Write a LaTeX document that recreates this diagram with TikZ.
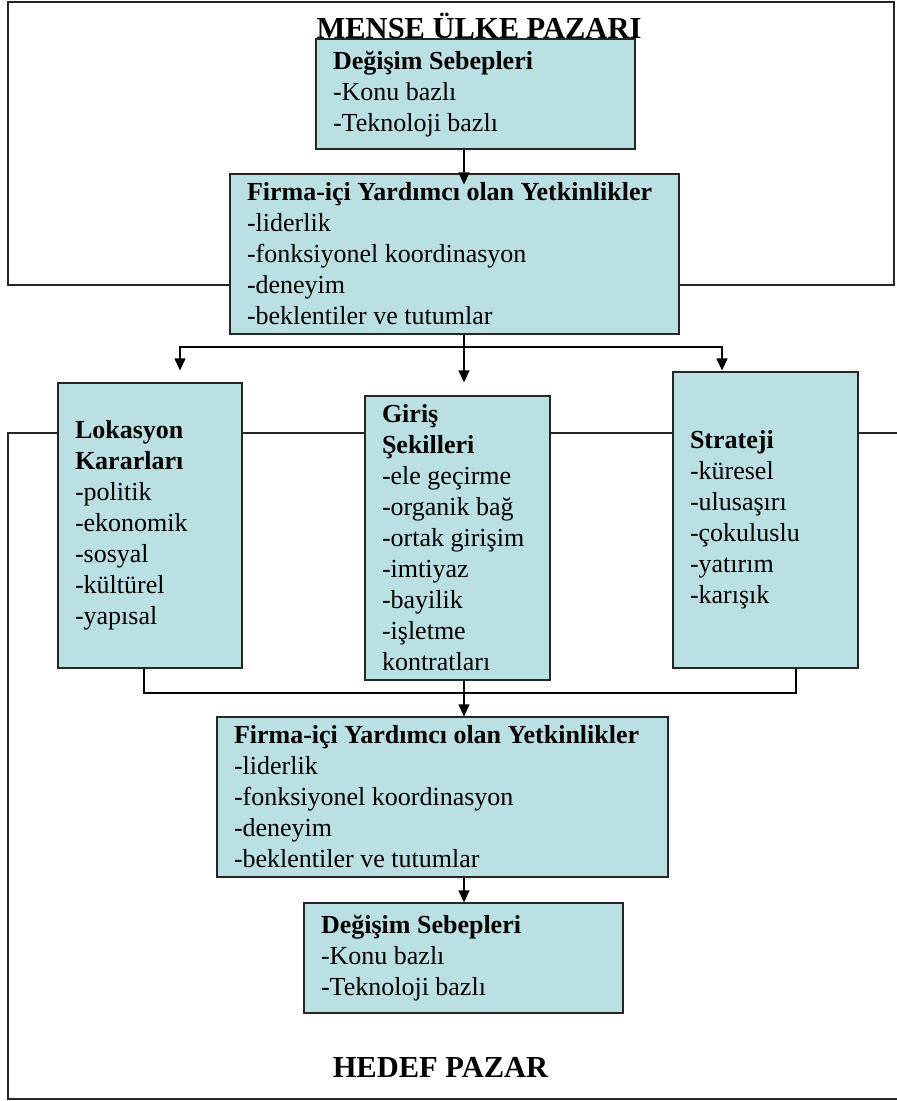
\documentclass[tikz,border=0pt]{standalone}
\usepackage{fontspec}
\setmainfont{Liberation Serif}
\usetikzlibrary{arrows.meta}
\definecolor{boxfill}{RGB}{187,224,227}
\begin{document}
\hyphenpenalty=10000
\exhyphenpenalty=10000
\begin{tikzpicture}[x=1pt,y=-1pt,
  frame/.style={line width=1.3pt, draw=black!85},
  infobox/.style={draw=black!85, line width=1.3pt, fill=boxfill, inner xsep=17pt,
    inner ysep=0pt, align=flush left, anchor=center,
    font=\fontsize{26}{31}\selectfont},
  link/.style={line width=1.3pt},
  arr/.style={link, -{Triangle[width=11pt,length=12pt]}},
  title/.style={font=\fontsize{30.5}{36}\selectfont\bfseries, inner sep=0pt, anchor=base}]
\useasboundingbox (0,0) rectangle (897,1101);

% market frames
\draw[frame] (8,2) rectangle (894,285);
\draw[frame] (897,433) -- (8,433) -- (8,1099) -- (897,1099);

% market titles
\node[title] (menseTitle) at (479,38) {MENŞE ÜLKE PAZARI};
\node[title] (hedefTitle) at (440.5,1077) {HEDEF PAZAR};

% boxes
\node[infobox, minimum width=319pt, minimum height=110pt, text width=285pt] (A) at (475.5,94)
  {\textbf{Değişim Sebepleri}\\-Konu bazlı\\-Teknoloji bazlı};
\node[infobox, minimum width=449pt, minimum height=160pt, text width=415pt] (B) at (454.5,254)
  {\textbf{Firma-içi Yardımcı olan Yetkinlikler}\\-liderlik\\-fonksiyonel koordinasyon\\-deneyim\\-beklentiler ve tutumlar};
\node[infobox, minimum width=184pt, minimum height=285pt, text width=150pt] (C1) at (150,525.5)
  {\textbf{Lokasyon}\\\textbf{Kararları}\\-politik\\-ekonomik\\-sosyal\\-kültürel\\-yapısal};
\node[infobox, minimum width=185pt, minimum height=284pt, text width=151pt] (C2) at (457.5,538)
  {\textbf{Giriş}\\\textbf{Şekilleri}\\-ele geçirme\\-organik bağ\\-ortak girişim\\-imtiyaz\\-bayilik\\-işletme\\kontratları};
\node[infobox, minimum width=185pt, minimum height=296pt, text width=151pt] (C3) at (765.5,520)
  {\textbf{Strateji}\\-küresel\\-ulusaşırı\\-çokuluslu\\-yatırım\\-karışık};
\node[infobox, minimum width=451pt, minimum height=160pt, text width=417pt] (D) at (442.5,797)
  {\textbf{Firma-içi Yardımcı olan Yetkinlikler}\\-liderlik\\-fonksiyonel koordinasyon\\-deneyim\\-beklentiler ve tutumlar};
\node[infobox, minimum width=319pt, minimum height=110pt, text width=285pt] (E) at (463.5,958)
  {\textbf{Değişim Sebepleri}\\-Konu bazlı\\-Teknoloji bazlı};

% connector guide points
\coordinate (sx) at (464,0);
\coordinate (c1x) at (180,0);
\coordinate (c3x) at (722,0);
\coordinate (c1o) at (144,0);
\coordinate (c3o) at (796,0);
\coordinate (br) at (464,347);
\coordinate (jn) at (464,693);
\coordinate (bt) at (B.north -| sx);
\coordinate (c1t) at (C1.north -| c1x);
\coordinate (c2t) at (C2.north -| sx);
\coordinate (c3t) at (C3.north -| c3x);

% connectors
\draw[arr] (A.south -| sx) -- ([yshift=-11pt]bt);
\draw[link] (B.south -| sx) -- (br);
\draw[arr] (br) -- ([yshift=13pt]c2t);
\draw[arr] (br) -| ([yshift=12pt]c1t);
\draw[arr] (br) -| ([yshift=1pt]c3t);
\draw[link] (C1.south -| c1o) |- (jn);
\draw[link] (C3.south -| c3o) |- (jn);
\draw[link] (C2.south -| sx) -- (jn);
\draw[arr] (jn) -- (D.north -| sx);
\draw[arr] (D.south -| sx) -- (E.north -| sx);
\end{tikzpicture}
\end{document}
